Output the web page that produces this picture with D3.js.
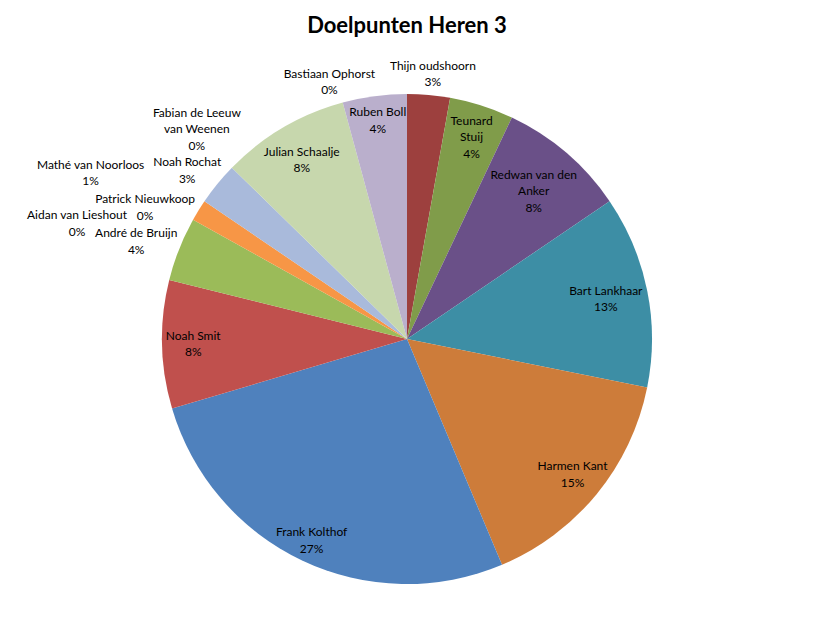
<!DOCTYPE html>
<html>
<head>
<meta charset="utf-8">
<script src="https://cdn.jsdelivr.net/npm/d3@7/dist/d3.min.js"></script>
<style>
  body { margin: 0; background: #fff; }
  text { font-family: Lato, "Open Sans", sans-serif; fill: #000; }
</style>
</head>
<body>
<svg id="chart" width="814" height="635"></svg>
<script>
// goals per player, clockwise from 12 o'clock
const players = [
  "Thijn oudshoorn", "Teunard Stuij", "Redwan van den Anker", "Bart Lankhaar",
  "Harmen Kant", "Frank Kolthof", "Noah Smit", "André de Bruijn",
  "Aidan van Lieshout", "Patrick Nieuwkoop", "Mathé van Noorloos", "Noah Rochat",
  "Fabian de Leeuw van Weenen", "Julian Schaalje", "Bastiaan Ophorst", "Ruben Boll"
];
const goals = [2, 3, 6, 9, 11, 19, 6, 3, 0, 0, 1, 2, 0, 6, 0, 3];
const sliceColors = [
  "#9d403e", "#809c4a", "#6a5088", "#3d8ea5",
  "#cd7c3a", "#4f81bd", "#c0504d", "#9bbb59",
  "#8064a2", "#4bacc6", "#f79646", "#a9badb",
  "#d9a6a5", "#c7d7ad", "#a5d5e2", "#baafcc"
];
const title = "Doelpunten Heren 3";

var svg = d3.select("#chart"),
  width = +svg.attr("width"),
  height = +svg.attr("height"),
  cx = 407, cy = 339, R = 245,
  fontSize = 12, lineH = 16.5, halfGlyph = 7, maxChars = 18,
  padX = 8, padY = 2;

var data = players.map(function (p, i) { return { name: p, goals: goals[i] }; });
var total = d3.sum(goals);
var pct = d3.format(".0%");

var color = d3.scaleOrdinal().domain(players).range(sliceColors);

svg.append("text")
  .attr("x", width / 2)
  .attr("y", 33)
  .attr("text-anchor", "middle")
  .attr("font-size", 22)
  .attr("font-weight", "bold")
  .text(title);

var g = svg.append("g").attr("transform", "translate(" + cx + "," + cy + ")");

var arcs = d3.pie().sort(null).value(function (d) { return d.goals; })(data);
var arc = d3.arc().innerRadius(0).outerRadius(R);

g.append("g")
  .selectAll("path")
  .data(arcs)
  .join("path")
  .attr("d", arc)
  .attr("fill", function (d) { return color(d.data.name); });

// ---- label layout (rough imitation of Excel "best fit") ----
var probe = svg.append("text").attr("font-size", fontSize).attr("visibility", "hidden");
function textW(s) { probe.text(s); return probe.node().getComputedTextLength(); }

function wrap(name) {
  var words = name.split(" "), lines = [], cur = "";
  words.forEach(function (w) {
    var t = cur ? cur + " " + w : w;
    if (cur && t.length > maxChars) { lines.push(cur); cur = w; } else cur = t;
  });
  lines.push(cur);
  return lines;
}

function lineRects(lines, p) {
  var h = lines.length * lineH;
  return lines.map(function (s, i) {
    var w = textW(s), yc = p[1] - h / 2 + lineH * (i + 0.5);
    return { x0: p[0] - w / 2, x1: p[0] + w / 2, y0: yc - halfGlyph, y1: yc + halfGlyph };
  });
}

function corners(rects) {
  var c = [];
  rects.forEach(function (r) {
    c.push([r.x0, r.y0], [r.x1, r.y0], [r.x0, r.y1], [r.x1, r.y1]);
  });
  return c;
}

function polar(a, r) { return [r * Math.sin(a), -r * Math.cos(a)]; }

function angDiff(a, b) {
  var d = (a - b) % (2 * Math.PI);
  if (d > Math.PI) d -= 2 * Math.PI;
  if (d < -Math.PI) d += 2 * Math.PI;
  return d;
}

// largest radius where the block sits inside the circle, and how far (degrees) it spills out of the wedge
function insideFit(lines, s) {
  var mid = (s.startAngle + s.endAngle) / 2, half = (s.endAngle - s.startAngle) / 2;
  for (var r = 0.93 * R; r > 0.4 * R; r -= 1) {
    var p = polar(mid, r), cs = corners(lineRects(lines, p));
    var inCircle = cs.every(function (c) { return Math.hypot(c[0], c[1]) <= R - 3; });
    if (!inCircle) continue;
    var spill = d3.max(cs, function (c) {
      return Math.abs(angDiff(Math.atan2(c[0], -c[1]), mid)) - half;
    });
    return { p: p, spill: spill * 180 / Math.PI };
  }
  return null;
}

function rectDist(rects) {
  return d3.min(rects, function (r) {
    var dx = Math.max(r.x0, 0, -r.x1), dy = Math.max(r.y0, 0, -r.y1);
    return Math.hypot(dx, dy);
  });
}

function overlaps(a, b) {
  return a.x0 < b.x1 + padX && b.x0 < a.x1 + padX && a.y0 < b.y1 + padY && b.y0 < a.y1 + padY;
}

var labels = [], outside = [];

arcs.forEach(function (s, i) {
  var pLine = pct(s.data.goals / total);
  var lab = { i: i, slice: s, mid: (s.startAngle + s.endAngle) / 2 };
  if (s.data.goals > 0) {
    var words = s.data.name.split(" ");
    var variants = [wrap(s.data.name)];
    if (words.length > 1) variants.push([words.slice(0, -1).join(" "), words[words.length - 1]]);
    for (var k = 0; k < variants.length; k++) {
      var lines = variants[k].concat([pLine]);
      var f = insideFit(lines, s);
      if (f && f.spill <= 0.5) { lab.lines = lines; lab.p = f.p; break; }
    }
  }
  if (!lab.p) {
    lab.lines = wrap(s.data.name).concat([pLine]);
    outside.push(lab);
  }
  labels.push(lab);
});

// outside labels: anchored just beyond the rim at the slice's mid angle,
// compact labels first, then the rest slide to the nearest free spot
var placed = [{ x0: 300 - cx, x1: 514 - cx, y0: 8 - cy, y1: 40 - cy }];
var offsets = [];
for (var dx = -140; dx <= 140; dx += 2)
  for (var dy = -100; dy <= 100; dy += 2) offsets.push([dx, dy, Math.hypot(dx, dy)]);
offsets.sort(function (a, b) { return a[2] - b[2]; });

outside.forEach(function (lab) {
  var w = d3.max(lab.lines, textW), h = lab.lines.length * lineH,
    anchor = polar(lab.mid, R + 5);
  lab.p0 = [anchor[0] + Math.sin(lab.mid) * w / 2, anchor[1] - Math.cos(lab.mid) * h / 2];
  lab.chars = d3.max(lab.lines, function (s) { return s.length; });
});
outside.sort(function (a, b) { return a.chars - b.chars || b.mid - a.mid; });

outside.forEach(function (lab) {
  for (var k = 0; k < offsets.length; k++) {
    var p = [lab.p0[0] + offsets[k][0], lab.p0[1] + offsets[k][1]];
    var rects = lineRects(lab.lines, p);
    var ok = rectDist(rects) >= R + 3 && rects.every(function (r) {
      return r.x0 >= 2 - cx && r.x1 <= width - 2 - cx && r.y1 <= height - 2 - cy &&
        !placed.some(function (q) { return overlaps(r, q); });
    });
    if (ok) { lab.p = p; placed = placed.concat(rects); break; }
  }
  if (!lab.p) lab.p = lab.p0;
});

var lg = g.append("g").attr("font-size", fontSize).attr("text-anchor", "middle");
labels.forEach(function (lab) {
  var h = lab.lines.length * lineH;
  lg.append("text")
    .selectAll("tspan")
    .data(lab.lines)
    .join("tspan")
    .attr("x", lab.p[0])
    .attr("y", function (d, i) { return lab.p[1] - h / 2 + lineH * (i + 0.5); })
    .attr("dy", "0.35em")
    .text(function (d) { return d; });
});
</script>
</body>
</html>
